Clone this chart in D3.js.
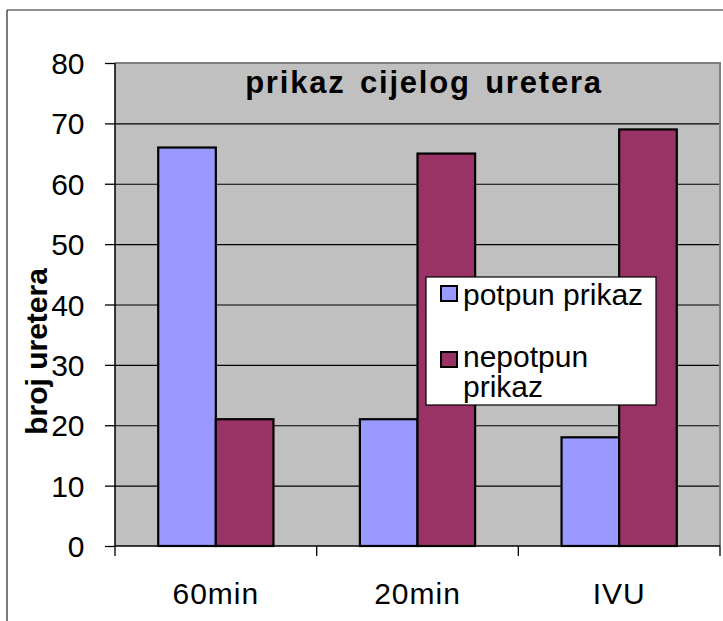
<!DOCTYPE html>
<html>
<head>
<meta charset="utf-8">
<script src="https://cdn.jsdelivr.net/npm/d3@7"></script>
<style>
  html, body { margin: 0; padding: 0; background: #fff; }
  svg { display: block; font-family: "Liberation Sans", Arial, sans-serif; }
</style>
</head>
<body>
<svg id="chart" width="723" height="621"></svg>
<script>
const categories = ["60min", "20min", "IVU"];
const seriesNames = ["potpun prikaz", "nepotpun prikaz"];
const potpun = [66, 21, 18];
const nepotpun = [21, 65, 69];
const yTicks = [0, 10, 20, 30, 40, 50, 60, 70, 80];
const colors = ["#9999FF", "#993366"];
const titleText = "prikaz cijelog uretera";
const yTitle = "broj uretera";

const svg = d3.select("#chart");
const L = 115, R = 720, T = 63, B = 546;

// outer frame
svg.append("line").attr("x1", 7).attr("y1", 10).attr("x2", 723).attr("y2", 10).attr("stroke", "#222").attr("stroke-width", 1.2);
svg.append("line").attr("x1", 7).attr("y1", 10).attr("x2", 7).attr("y2", 621).attr("stroke", "#222").attr("stroke-width", 1.2);

const y = d3.scaleLinear().domain([0, 80]).range([B, T]);
const x0 = d3.scaleBand().domain(categories).range([L, R]).padding(0);
const x1 = d3.scaleBand().domain(seriesNames).range([0, x0.bandwidth()]).paddingInner(0).paddingOuter(0.75);

// plot background
svg.append("rect").attr("x", L).attr("y", T).attr("width", R - L).attr("height", B - T).attr("fill", "#C0C0C0");

// gridlines
const grid = svg.append("g").attr("transform", `translate(${L},0)`)
  .call(d3.axisLeft(y).tickValues(yTicks.filter(v => v > 0 && v < 80)).tickSize(-(R - L)).tickFormat(""));
grid.select(".domain").remove();
grid.selectAll("line").attr("stroke", "#000").attr("stroke-width", 1.2);

// plot border top/right (gray)
svg.append("path").attr("d", `M${L},${T}H${R}V${B}`).attr("fill", "none").attr("stroke", "#808080").attr("stroke-width", 2);

// bars
const data = categories.map((c, i) => ({ cat: c, vals: [potpun[i], nepotpun[i]] }));
const groups = svg.append("g").selectAll("g").data(data).join("g")
  .attr("transform", d => `translate(${x0(d.cat)},0)`);
groups.selectAll("rect").data(d => d.vals.map((v, j) => ({ s: seriesNames[j], v, j })))
  .join("rect")
  .attr("x", d => x1(d.s))
  .attr("y", d => y(d.v))
  .attr("width", x1.bandwidth())
  .attr("height", d => B - y(d.v))
  .attr("fill", d => colors[d.j])
  .attr("stroke", "#000")
  .attr("stroke-width", 2.2);

// y axis
const yAxis = svg.append("g").attr("transform", `translate(${L},0)`)
  .call(d3.axisLeft(y).tickValues(yTicks).tickSize(10).tickPadding(0).tickFormat(d3.format("d")));
yAxis.select(".domain").attr("d", `M0,${T}V${B}`).attr("stroke", "#000").attr("stroke-width", 1.5);
yAxis.selectAll("line").attr("stroke", "#000").attr("stroke-width", 1.3);
yAxis.selectAll("text").attr("x", 84.5 - L).attr("dy", "0.35em")
  .attr("font-size", 30).attr("fill", "#000").attr("font-family", "Liberation Sans, Arial, sans-serif");

// x axis
const xAxis = svg.append("g").attr("transform", `translate(0,${B})`)
  .call(d3.axisBottom(x0).tickSize(0).tickFormat(""));
xAxis.select(".domain").attr("d", `M${L},0H${R}`).attr("stroke", "#000").attr("stroke-width", 1.5);
xAxis.selectAll(".tick").remove();
// boundary ticks
const bounds = [L].concat(categories.map(c => x0(c) + x0.bandwidth()));
xAxis.selectAll("line.b").data(bounds).join("line").attr("class", "b")
  .attr("x1", d => d).attr("x2", d => d).attr("y1", 0).attr("y2", 10)
  .attr("stroke", "#000").attr("stroke-width", 1.3);
svg.append("g").selectAll("text").data(categories).join("text")
  .attr("x", d => x0(d) + x0.bandwidth() / 2)
  .attr("y", 604)
  .attr("text-anchor", "middle")
  .attr("font-size", 30)
  .attr("letter-spacing", "1px")
  .text(d => d);

// title
svg.append("text")
  .attr("x", 424).attr("y", 93)
  .attr("text-anchor", "middle")
  .attr("font-size", 31).attr("font-weight", "bold")
  .attr("letter-spacing", "1.8px")
  .attr("word-spacing", "4px")
  .text(titleText);

// y title
svg.append("text")
  .attr("transform", "translate(46.5,351.5) rotate(-90)")
  .attr("text-anchor", "middle")
  .attr("font-size", 30).attr("font-weight", "bold")
  .text(yTitle);

// legend
const lg = svg.append("g");
lg.append("rect").attr("x", 426).attr("y", 277).attr("width", 230).attr("height", 128)
  .attr("fill", "#fff").attr("stroke", "#000").attr("stroke-width", 1.2);
const legendRows = [
  { name: seriesNames[0], lines: ["potpun prikaz"], sy: 286, ty: 305 },
  { name: seriesNames[1], lines: ["nepotpun", "prikaz"], sy: 352, ty: 366.5 }
];
legendRows.forEach((r, i) => {
  lg.append("rect").attr("x", 441).attr("y", r.sy).attr("width", 16).attr("height", 15)
    .attr("fill", colors[i]).attr("stroke", "#000").attr("stroke-width", 2);
  const t = lg.append("text").attr("x", 463).attr("y", r.ty).attr("font-size", 30);
  r.lines.forEach((ln, k) => {
    t.append("tspan").attr("x", 463).attr("dy", k === 0 ? 0 : 30).text(ln);
  });
});
</script>
</body>
</html>
